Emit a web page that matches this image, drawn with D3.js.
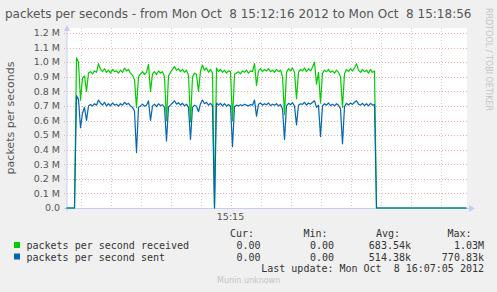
<!DOCTYPE html>
<html>
<head>
<meta charset="utf-8">
<script src="https://cdn.jsdelivr.net/npm/d3@7"></script>
<style>
  body { margin: 0; background: #f0f0f0; }
  text { font-family: "DejaVu Sans", sans-serif; }
  .mono { font-family: "DejaVu Sans Mono", monospace; font-size: 10px; fill: #333; }
</style>
</head>
<body>
<div id="chart"></div>
<script>
// size of the whole picture
var width = 497;
var height = 292;

// time range of the graph, one sample every 2 seconds
var startTime = new Date(2012, 9, 8, 15, 12, 16);
var endTime = new Date(2012, 9, 8, 15, 18, 56);
var stepSeconds = 2;

// y ticks (packets per second)
var yTicks = [0, 1e5, 2e5, 3e5, 4e5, 5e5, 6e5, 7e5, 8e5, 9e5, 1e6, 1.1e6, 1.2e6];
var yTickLabels = ["0.0", "0.1 M", "0.2 M", "0.3 M", "0.4 M", "0.5 M", "0.6 M", "0.7 M", "0.8 M", "0.9 M", "1.0 M", "1.1 M", "1.2 M"];

// values in k packets / s
var received = [0, 0, 0, 0, 0,
  1030, 1000, 740, 890, 905, 800, 925, 935, 920, 940, 930, 990, 950, 935, 955, 930, 945, 925, 950, 935,
  940, 925, 945, 930, 960, 940, 950, 925, 910, 880, 690, 900, 920, 935, 915, 930, 985, 800, 920, 935,
  915, 940, 925, 935, 900, 600, 905, 930, 950, 970, 945, 955, 935, 950, 930, 945, 910, 590, 900, 925,
  915, 800, 940, 980, 945, 960, 930, 950, 925, 0, 960, 935, 950, 930, 945, 925, 940, 935, 600, 915,
  925, 935, 920, 940, 930, 945, 925, 940, 935, 990, 840, 940, 955, 935, 950, 940, 955, 935, 945, 930,
  950, 935, 945, 900, 640, 930, 955, 940, 960, 930, 750, 930, 950, 940, 960, 935, 955, 940, 965, 1000,
  850, 930, 720, 925, 945, 935, 950, 930, 940, 925, 945, 930, 900, 690, 920, 950, 935, 955, 940, 960,
  990, 945, 930, 950, 935, 945, 925, 950, 930, 940,
  0, 0, 0, 0, 0, 0, 0, 0, 0, 0, 0, 0, 0, 0, 0, 0, 0, 0, 0, 0, 0, 0, 0,
  0, 0, 0, 0, 0, 0, 0, 0, 0, 0, 0, 0, 0, 0, 0, 0, 0, 0, 0, 0, 0, 0, 0];
var sent = [0, 0, 0, 0, 0,
  770, 745, 550, 650, 690, 600, 700, 710, 700, 715, 705, 740, 720, 705, 725, 700, 715, 700, 720, 705,
  712, 698, 715, 705, 725, 710, 718, 700, 690, 665, 380, 690, 700, 712, 698, 705, 735, 600, 700, 712,
  695, 715, 702, 708, 690, 460, 695, 705, 720, 735, 712, 722, 705, 718, 700, 712, 690, 470, 690, 705,
  698, 660, 715, 740, 715, 725, 705, 718, 700, 0, 720, 705, 718, 700, 715, 698, 710, 700, 420, 695,
  705, 700, 708, 702, 712, 705, 700, 710, 705, 740, 630, 712, 720, 705, 715, 708, 720, 702, 712, 705,
  715, 700, 710, 680, 470, 700, 718, 708, 722, 700, 570, 705, 715, 710, 725, 705, 720, 712, 725, 735,
  690, 705, 490, 700, 715, 705, 720, 702, 712, 700, 715, 705, 680, 440, 695, 718, 705, 720, 710, 725,
  735, 712, 705, 718, 702, 715, 700, 718, 705, 710,
  0, 0, 0, 0, 0, 0, 0, 0, 0, 0, 0, 0, 0, 0, 0, 0, 0, 0, 0, 0, 0, 0, 0,
  0, 0, 0, 0, 0, 0, 0, 0, 0, 0, 0, 0, 0, 0, 0, 0, 0, 0, 0, 0, 0, 0, 0];

// legend rows
var seriesNames = ["packets per second received", "packets per second sent"];
var seriesColors = ["#00cc00", "#0066b3"];
var curValues = ["0.00", "0.00"];
var minValues = ["0.00", "0.00"];
var avgValues = ["683.54k", "514.38k"];
var maxValues = ["1.03M", "770.83k"];
var statHeaders = ["Cur:", "Min:", "Avg:", "Max:"];

var titleText = "packets per seconds - from Mon Oct  8 15:12:16 2012 to Mon Oct  8 15:18:56";
var lastUpdate = "Last update: Mon Oct  8 16:07:05 2012";

// plot box (note: "top" is taken by window.top)
var plotLeft = 66.5, plotRight = 466.5, plotTop = 33, plotBottom = 208;

var x = d3.scaleTime()
  .domain([startTime, endTime])
  .range([plotLeft, plotRight]);

var y = d3.scaleLinear()
  .domain([0, 1.2e6])
  .range([plotBottom, plotTop]);

var svg = d3.select("#chart")
  .append("svg")
  .attr("width", width)
  .attr("height", height)
  .style("display", "block");

svg.append("rect")
  .attr("width", width)
  .attr("height", height)
  .attr("fill", "#f0f0f0");

// white graph area
svg.append("rect")
  .attr("x", 67)
  .attr("y", 28)
  .attr("width", plotRight - 67 + 0.5)
  .attr("height", plotBottom - 28)
  .attr("fill", "#fff");

// title
svg.append("text")
  .attr("x", 5)
  .attr("y", 18)
  .style("font-size", "12px")
  .style("fill", "#555")
  .style("white-space", "pre")
  .text(titleText);

// rrdtool watermark
svg.append("text")
  .attr("transform", "translate(486,8) rotate(90)")
  .style("font-size", "8px")
  .style("fill", "#c4c4c4")
  .text("RRDTOOL / TOBI OETIKER");

// vertical grid, every 30 s
var minorTicks = x.ticks(d3.timeSecond.every(30));
var majorTime = new Date(2012, 9, 8, 15, 15, 0);
svg.append("g")
  .selectAll("line")
  .data(minorTicks)
  .enter()
  .append("line")
  .attr("x1", function(d) { return Math.round(x(d)) + 0.5; })
  .attr("x2", function(d) { return Math.round(x(d)) + 0.5; })
  .attr("y1", plotTop - 5)
  .attr("y2", plotBottom + 3)
  .attr("stroke", function(d) { return +d === +majorTime ? "#f4a4a4" : "#cfcfcf"; })
  .attr("stroke-dasharray", "1,2");

// horizontal grid
svg.append("g")
  .selectAll("line")
  .data(yTicks.slice(1))
  .enter()
  .append("line")
  .attr("x1", 64)
  .attr("x2", plotRight + 1.5)
  .attr("y1", function(d) { return Math.round(y(d)) + 0.5; })
  .attr("y2", function(d) { return Math.round(y(d)) + 0.5; })
  .attr("stroke", "#eeaaaa")
  .attr("stroke-dasharray", "1,2");

// y tick labels
svg.append("g")
  .selectAll("text")
  .data(yTicks)
  .enter()
  .append("text")
  .attr("x", 60)
  .attr("y", function(d) { return y(d); })
  .attr("dy", ".35em")
  .attr("text-anchor", "end")
  .style("font-size", "9.5px")
  .style("fill", "#555")
  .text(function(d, i) { return yTickLabels[i]; });

// x label
svg.append("text")
  .attr("x", x(majorTime))
  .attr("y", 220)
  .attr("text-anchor", "middle")
  .style("font-size", "9.5px")
  .style("fill", "#555")
  .text(d3.timeFormat("%H:%M")(majorTime));

// y axis title
svg.append("text")
  .attr("transform", "translate(14,118) rotate(-90)")
  .attr("text-anchor", "middle")
  .style("font-size", "11px")
  .style("fill", "#555")
  .text("packets per seconds");

// axes with arrows
var axisColor = "#c8ccf2";
svg.append("line")
  .attr("x1", 67).attr("x2", 67)
  .attr("y1", plotBottom + 3).attr("y2", 28)
  .attr("stroke", axisColor);
svg.append("line")
  .attr("x1", 64).attr("x2", 470)
  .attr("y1", plotBottom + 0.5).attr("y2", plotBottom + 0.5)
  .attr("stroke", axisColor);
svg.append("path")
  .attr("d", "M64,31 L67,25 L70,31 Z")
  .attr("fill", axisColor);
svg.append("path")
  .attr("d", "M469,205 L475,208.5 L469,212 Z")
  .attr("fill", axisColor);

// lines
function toPoints(values) {
  return values.map(function(v, i) {
    return { t: new Date(+startTime + i * stepSeconds * 1000), v: v * 1000 };
  });
}

var line = d3.line()
  .x(function(d) { return x(d.t); })
  .y(function(d) { return y(d.v); });

[received, sent].forEach(function(values, i) {
  svg.append("path")
    .datum(toPoints(values))
    .attr("d", line)
    .attr("fill", "none")
    .attr("stroke", seriesColors[i])
    .attr("stroke-width", 1.2)
    .attr("stroke-linejoin", "round");
});

// legend
var statRight = [260.5, 334, 411, 484];
var headerLeft = [230, 303.5, 376, 447.5];
statHeaders.forEach(function(h, i) {
  svg.append("text")
    .attr("class", "mono")
    .attr("x", headerLeft[i])
    .attr("y", 237)
    .text(h);
});

var rowY = [249, 260.5];
seriesNames.forEach(function(name, i) {
  svg.append("rect")
    .attr("x", 14)
    .attr("y", rowY[i] - 7)
    .attr("width", 6)
    .attr("height", 6)
    .attr("fill", seriesColors[i]);
  svg.append("text")
    .attr("class", "mono")
    .attr("x", 26.5)
    .attr("y", rowY[i])
    .text(name);
  [curValues[i], minValues[i], avgValues[i], maxValues[i]].forEach(function(v, j) {
    svg.append("text")
      .attr("class", "mono")
      .attr("x", statRight[j])
      .attr("y", rowY[i])
      .attr("text-anchor", "end")
      .text(v);
  });
});

svg.append("text")
  .attr("class", "mono")
  .attr("x", 484)
  .attr("y", 272)
  .attr("text-anchor", "end")
  .style("white-space", "pre")
  .text(lastUpdate);

svg.append("text")
  .attr("x", 217)
  .attr("y", 283)
  .style("font-size", "8px")
  .style("fill", "#c4c4c4")
  .text("Munin unknown");
</script>
</body>
</html>
